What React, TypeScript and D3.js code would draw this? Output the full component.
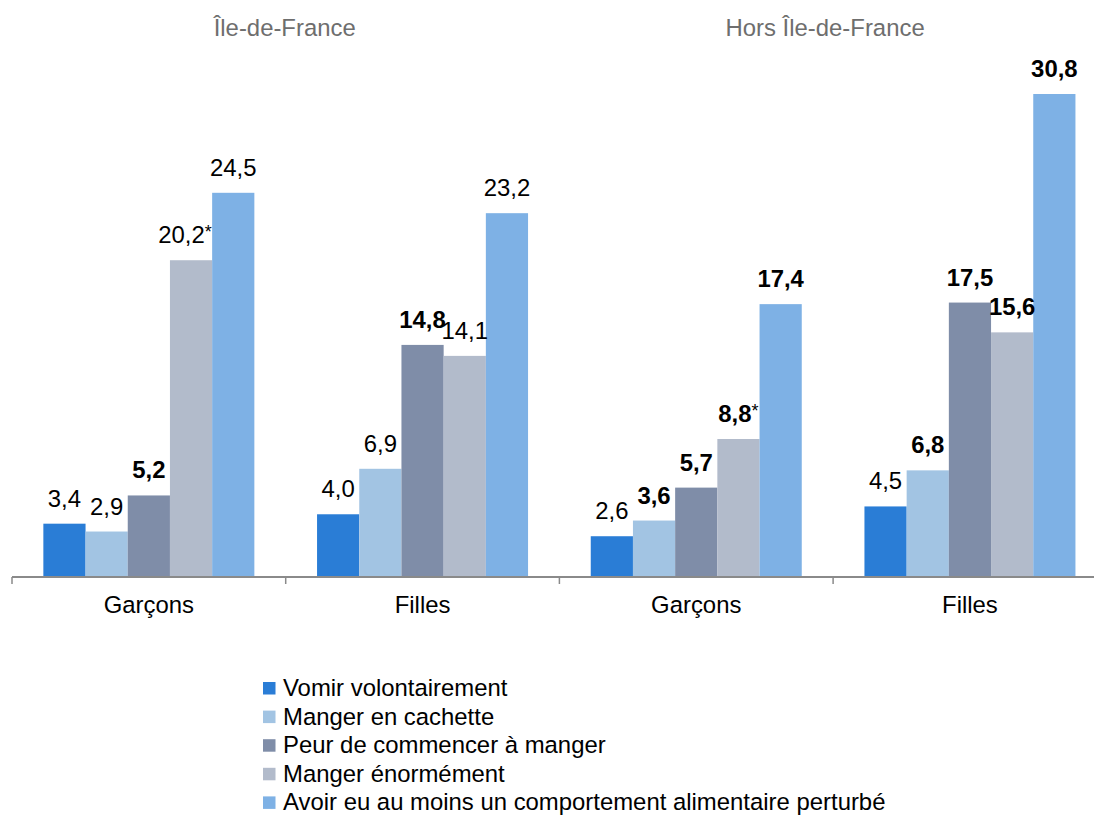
import React from "react";
import * as d3 from "d3";

const regions = ["Île-de-France", "Hors Île-de-France"];
const categories = ["Garçons", "Filles", "Garçons", "Filles"];
const seriesNames = [
  "Vomir volontairement",
  "Manger en cachette",
  "Peur de commencer à manger",
  "Manger énormément",
  "Avoir eu au moins un comportement alimentaire perturbé",
];
const colors = ["#2A7DD6", "#A2C4E3", "#7F8DA8", "#B2BBCB", "#7EB1E5"];

// values per category (rows) x series (columns)
const values = [
  [3.4, 2.9, 5.2, 20.2, 24.5],
  [4.0, 6.9, 14.8, 14.1, 23.2],
  [2.6, 3.6, 5.7, 8.8, 17.4],
  [4.5, 6.8, 17.5, 15.6, 30.8],
];
const bold = [
  [false, false, true, false, false],
  [false, false, true, false, false],
  [false, true, true, true, true],
  [false, true, true, true, true],
];
const star = [
  [false, false, false, true, false],
  [false, false, false, false, false],
  [false, false, false, true, false],
  [false, false, false, false, false],
];

const W = 1094;
const H = 817;
const FONT = "'Liberation Sans', Arial, sans-serif";
const FS = 23.9;

export default function App() {
  const axisLeft = 12;
  const catW = 273.7;
  const baseY = 577;
  const x0 = d3
    .scaleBand<number>()
    .domain(d3.range(categories.length))
    .range([axisLeft, axisLeft + catW * categories.length])
    .padding(0);
  const x1 = d3
    .scaleBand<number>()
    .domain(d3.range(seriesNames.length))
    .range([31.35, catW - 31.35])
    .padding(0);
  const y = d3.scaleLinear().domain([0, 30.8]).range([baseY, 94]);

  const fmt = (v: number) => v.toFixed(1).replace(".", ",");

  return (
    <svg
      width={W}
      height={H}
      style={{ position: "absolute", left: 0, top: 0, background: "#fff" }}
      fontFamily={FONT}
    >
      {/* titles */}
      {regions.map((r, i) => {
        const cx = (x0(i * 2)! + x0(i * 2 + 1)! + catW) / 2 + (i === 1 ? -8 : -1);
        return (
          <text key={r} x={cx} y={36} textAnchor="middle" fontSize={FS} fill="#6e6e6e">
            {r}
          </text>
        );
      })}

      {/* bars */}
      {values.map((row, ci) =>
        row.map((v, si) => {
          const bx = x0(ci)! + x1(si)!;
          return (
            <rect
              key={`b${ci}-${si}`}
              x={bx}
              y={y(v)}
              width={x1.bandwidth()}
              height={baseY - y(v)}
              fill={colors[si]}
            />
          );
        })
      )}

      {/* labels */}
      {values.map((row, ci) =>
        row.map((v, si) => {
          const bx = x0(ci)! + x1(si)! + x1.bandwidth() / 2;
          const dx = ci === 0 && si === 3 ? -6 : 0;
          return (
            <text
              key={`l${ci}-${si}`}
              x={bx + dx}
              y={y(v) - 17}
              textAnchor="middle"
              fontSize={FS}
              fontWeight={bold[ci][si] ? "bold" : "normal"}
              fill="#000"
            >
              {fmt(v)}
              {star[ci][si] && (
                <tspan fontSize={18} dy={-5} fontWeight="normal">
                  *
                </tspan>
              )}
            </text>
          );
        })
      )}

      {/* axis */}
      <line x1={axisLeft} x2={W} y1={baseY} y2={baseY} stroke="#8a8a8a" strokeWidth={2} />
      {d3.range(categories.length).map((i) => (
        <line
          key={`t${i}`}
          x1={x0(i)!}
          x2={x0(i)!}
          y1={baseY}
          y2={baseY + 7}
          stroke="#8a8a8a"
          strokeWidth={1.5}
        />
      ))}
      {categories.map((c, i) => (
        <text
          key={`c${i}`}
          x={x0(i)! + catW / 2}
          y={613}
          textAnchor="middle"
          fontSize={FS}
          fill="#000"
        >
          {c}
        </text>
      ))}

      {/* legend */}
      {seriesNames.map((s, i) => {
        const cy = 688 + i * 28.6;
        return (
          <g key={s}>
            <rect x={263} y={cy - 6} width={12.5} height={12.5} fill={colors[i]} />
            <text x={283} y={cy + 8} fontSize={FS} fill="#000">
              {s}
            </text>
          </g>
        );
      })}
    </svg>
  );
}
